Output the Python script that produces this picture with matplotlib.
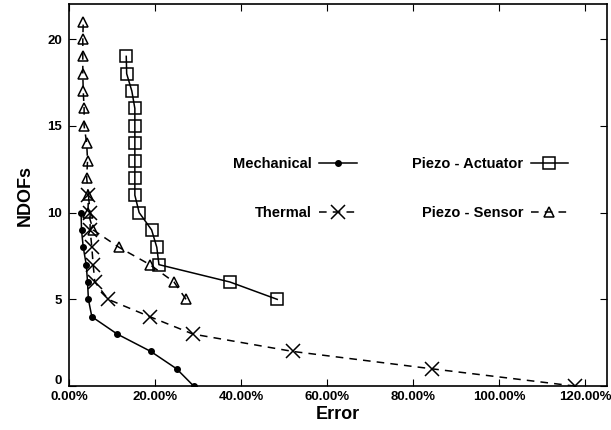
import matplotlib.pyplot as plt
from matplotlib.ticker import FuncFormatter
from matplotlib.transforms import ScaledTranslation

plt.rcParams['font.family'] = ['Liberation Sans', 'DejaVu Sans']
plt.rcParams['font.weight'] = 'bold'

# NDOFs por serie y su error (en %)
mech_ndofs = [0, 1, 2, 3, 4, 5, 6, 7, 8, 9, 10]
mech_error = [29.0, 25.0, 19.0, 11.2, 5.3, 4.5, 4.3, 4.0, 3.3, 2.9, 2.8]

therm_ndofs = [0, 1, 2, 3, 4, 5, 6, 7, 8, 9, 10, 11]
therm_error = [117.7, 84.3, 52.0, 28.8, 18.8, 9.1, 6.0, 5.6, 5.3, 4.9, 4.9, 4.5]

act_ndofs = [5, 6, 7, 8, 9, 10, 11, 12, 13, 14, 15, 16, 17, 18, 19]
act_error = [48.4, 37.4, 20.9, 20.4, 19.2, 16.3, 15.3, 15.3, 15.3, 15.3, 15.3, 15.3, 14.6, 13.4, 13.3]

sens_ndofs = [5, 6, 7, 8, 9, 10, 11, 12, 13, 14, 15, 16, 17, 18, 19, 20, 21]
sens_error = [27.2, 24.4, 18.8, 11.6, 5.6, 4.4, 4.5, 4.1, 4.3, 4.1, 3.5, 3.5, 3.3, 3.2, 3.2, 3.2, 3.3]

xticks = [0, 20, 40, 60, 80, 100, 120]
yticks = [0, 5, 10, 15, 20]

fig = plt.figure(figsize=(6.11, 4.30), dpi=100)
ax = fig.add_axes([0.113, 0.102, 0.880, 0.888])

ax.plot(mech_error, mech_ndofs, '-', color='black', lw=1.1, marker='o', ms=4,
        label='Mechanical')
ax.plot(therm_error, therm_ndofs, '--', color='black', lw=1.1, marker='x', ms=9.5,
        mew=1.1, dashes=(5, 4), label='Thermal')
ax.plot(act_error, act_ndofs, '-', color='black', lw=1.1, marker='s', ms=8,
        mfc='none', mew=1.1, label='Piezo - Actuator')
ax.plot(sens_error, sens_ndofs, '--', color='black', lw=1.1, marker='^', ms=7,
        mfc='none', mew=1.1, dashes=(5, 4), label='Piezo - Sensor')

ax.set_xlim(0, 125)
ax.set_ylim(0, 22)
ax.set_xticks(xticks)
ax.set_yticks(yticks)
ax.xaxis.set_major_formatter(FuncFormatter(lambda v, p: '%.2f%%' % v))
ax.tick_params(direction='in', top=True, right=True, length=5, width=0.8,
               labelsize=9.5)
ax.tick_params(axis='y', pad=5)
for lab in ax.get_xticklabels() + ax.get_yticklabels():
    lab.set_fontweight('bold')
# el "0" del eje Y queda algo más arriba, como en el original
ylab0 = ax.get_yticklabels()[0]
ylab0.set_transform(ylab0.get_transform() + ScaledTranslation(0, 5 / 72, fig.dpi_scale_trans))
for s in ax.spines.values():
    s.set_linewidth(1.2)

ax.set_xlabel('Error', fontsize=13, fontweight='bold', labelpad=2)
ax.set_ylabel('NDOFs', fontsize=13, fontweight='bold', labelpad=10)

leg = ax.legend(ncol=2, markerfirst=False, frameon=False, fontsize=10.5,
                loc='upper left', bbox_to_anchor=(0.28, 0.635),
                handlelength=2.6, columnspacing=3.8, labelspacing=2.4,
                handletextpad=0.5)
for t in leg.get_texts():
    t.set_fontweight('bold')

fig.savefig('out.png', dpi=100)
